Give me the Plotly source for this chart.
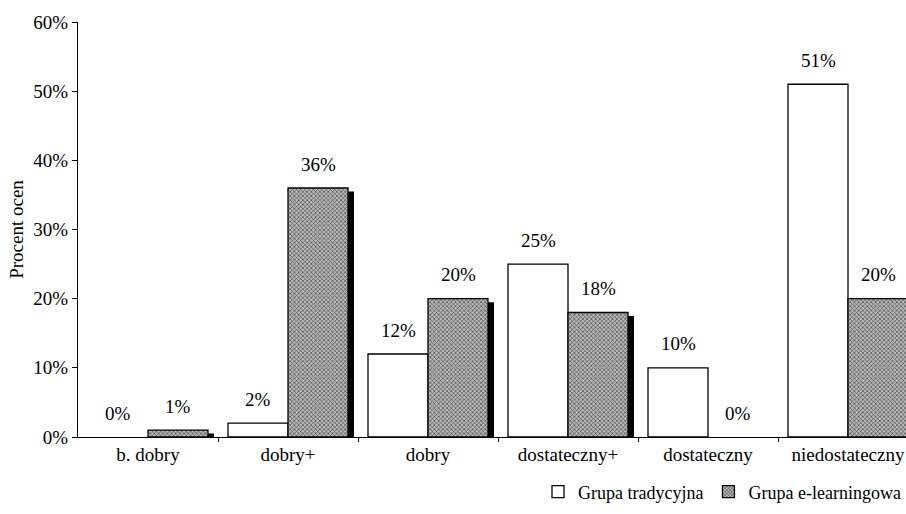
import plotly.graph_objects as go

categories = ["b. dobry", "dobry+", "dobry", "dostateczny+", "dostateczny", "niedostateczny"]
tradycyjna = [0, 2, 12, 25, 10, 51]
elearning = [1, 36, 20, 18, 0, 20]
series_names = ["Grupa tradycyjna", "Grupa e-learningowa"]
y_ticks = [0, 10, 20, 30, 40, 50, 60]

FONT = "Liberation Serif"
FS = 19
BAR_W = 60 / 140          # bar width in category units
SHADOW_DX = 6 / 140       # drop-shadow horizontal offset
SHADOW_DY = 0.5           # drop-shadow vertical drop (percent points)

idx = list(range(len(categories)))

white_marker = dict(color="white", line=dict(color="black", width=1.3))
pattern_marker = dict(
    color="#9a9a9a",
    line=dict(color="black", width=1.3),
    pattern=dict(shape="x", size=3, solidity=0.35,
                 fgcolor="#3a3a3a", bgcolor="#b8b8b8", fillmode="replace"),
)


def with_outline(marker, vals):
    # empty bars get no outline
    m = dict(marker)
    m["line"] = dict(color="black", width=[1.3 if v > 0 else 0 for v in vals])
    return m


fig = go.Figure()

# drop shadow behind the e-learning bars
fig.add_trace(go.Bar(
    x=idx, y=[max(0, v - SHADOW_DY) for v in elearning],
    width=BAR_W, offset=SHADOW_DX,
    marker=dict(color="black", line=dict(width=0)),
    showlegend=False, hoverinfo="skip",
))

fig.add_trace(go.Bar(
    x=idx, y=tradycyjna, name=series_names[0], legendgroup="t",
    width=BAR_W, offset=-BAR_W, showlegend=False,
    marker=with_outline(white_marker, tradycyjna),
))
fig.add_trace(go.Bar(
    x=idx, y=elearning, name=series_names[1], legendgroup="e",
    width=BAR_W, offset=0, showlegend=False,
    marker=with_outline(pattern_marker, elearning),
))

# legend entries
fig.add_trace(go.Bar(x=[None], y=[None], name=series_names[0], legendgroup="t",
                     marker=white_marker, hoverinfo="skip"))
fig.add_trace(go.Bar(x=[None], y=[None], name=series_names[1], legendgroup="e",
                     marker=pattern_marker, hoverinfo="skip"))

# value labels above bars
for i in idx:
    for vals, shift in ((tradycyjna, -30), (elearning, 30)):
        fig.add_annotation(
            x=i, y=vals[i], xshift=shift, yshift=24,
            text=f"{vals[i]}%", showarrow=False,
            font=dict(family=FONT, size=FS, color="black"),
            xanchor="center", yanchor="middle",
        )

fig.update_layout(
    width=906, height=514,
    margin=dict(l=78, r=0, t=22, b=77),
    barmode="overlay",
    plot_bgcolor="white", paper_bgcolor="white",
    font=dict(family=FONT, size=FS, color="black"),
    showlegend=True,
    legend=dict(
        orientation="h", x=1.0, xanchor="right", y=-0.1325, yanchor="middle",
        font=dict(family=FONT, size=FS - 1, color="black"),
        itemwidth=30, traceorder="normal",
    ),
)

fig.update_xaxes(
    range=[-0.5, -0.5 + 828 / 140],
    tickmode="array", tickvals=idx, ticktext=categories,
    showline=True, linecolor="black", linewidth=1,
    ticks="", showgrid=False, zeroline=False,
    tickfont=dict(family=FONT, size=FS),
    # tick marks sit on the category boundaries
    minor=dict(ticks="outside", ticklen=4, tickcolor="black",
               tickvals=[i + 0.5 for i in idx]),
)

fig.update_yaxes(
    range=[0, 60], tickmode="array", tickvals=y_ticks,
    ticktext=[f"{t}%" for t in y_ticks],
    showline=True, linecolor="black", linewidth=1,
    ticks="outside", ticklen=5, tickcolor="black",
    showgrid=False, zeroline=False,
    tickfont=dict(family=FONT, size=FS),
    title=dict(text="Procent ocen", font=dict(family=FONT, size=FS), standoff=4),
)

fig.write_html("out.html")
